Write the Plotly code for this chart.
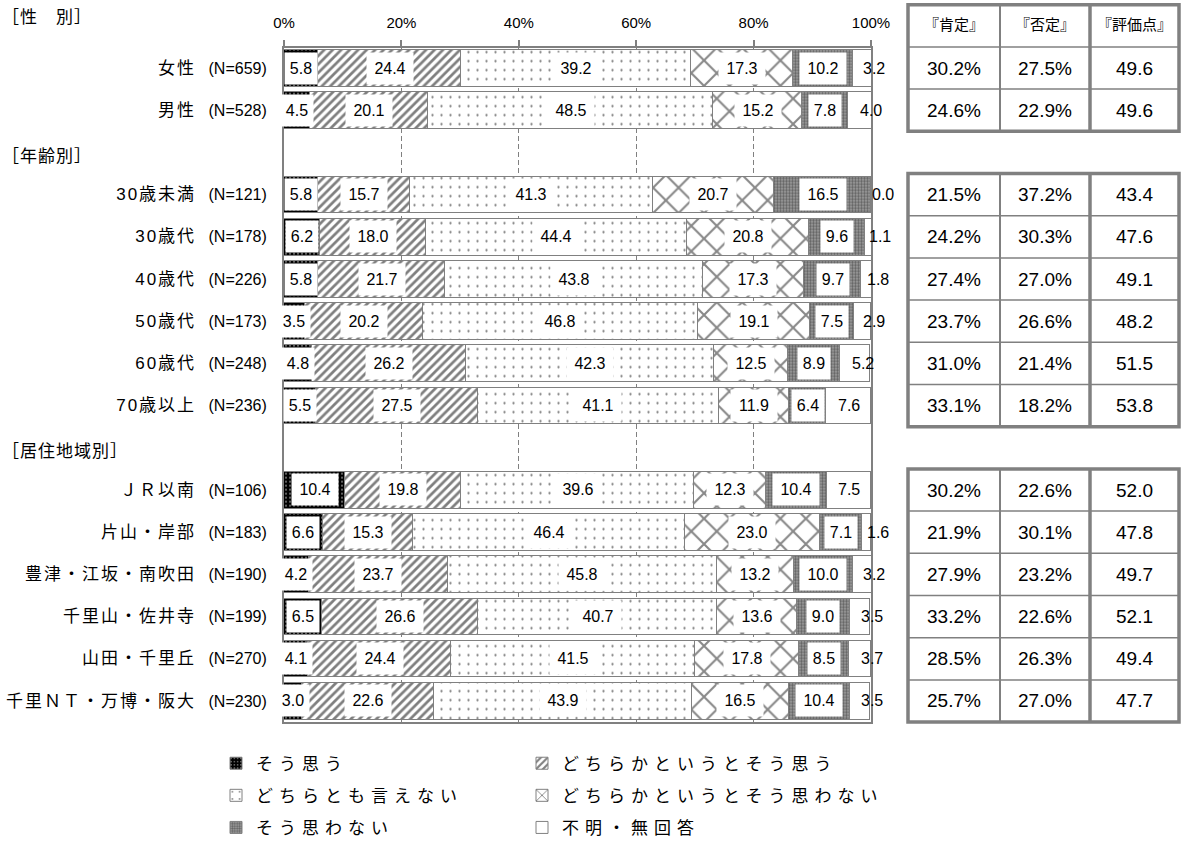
import plotly.graph_objects as go

W, H = 1182, 846

# ---- data -------------------------------------------------------------
gender_labels = ["女性", "男性"]
gender_n = [659, 528]
age_labels = ["30歳未満", "30歳代", "40歳代", "50歳代", "60歳代", "70歳以上"]
age_n = [121, 178, 226, 173, 248, 236]
region_labels = ["ＪＲ以南", "片山・岸部", "豊津・江坂・南吹田", "千里山・佐井寺",
                 "山田・千里丘", "千里ＮＴ・万博・阪大"]
region_n = [106, 183, 190, 199, 270, 230]

group_titles = ["［性　別］", "［年齢別］", "［居住地域別］"]

series_names = ["そう思う", "どちらかというとそう思う", "どちらとも言えない",
                "どちらかというとそう思わない", "そう思わない", "不明・無回答"]

sou_omou = [5.8, 4.5, 5.8, 6.2, 5.8, 3.5, 4.8, 5.5, 10.4, 6.6, 4.2, 6.5, 4.1, 3.0]
dochiraka_sou = [24.4, 20.1, 15.7, 18.0, 21.7, 20.2, 26.2, 27.5, 19.8, 15.3, 23.7, 26.6, 24.4, 22.6]
dochiratomo = [39.2, 48.5, 41.3, 44.4, 43.8, 46.8, 42.3, 41.1, 39.6, 46.4, 45.8, 40.7, 41.5, 43.9]
dochiraka_not = [17.3, 15.2, 20.7, 20.8, 17.3, 19.1, 12.5, 11.9, 12.3, 23.0, 13.2, 13.6, 17.8, 16.5]
sou_omowanai = [10.2, 7.8, 16.5, 9.6, 9.7, 7.5, 8.9, 6.4, 10.4, 7.1, 10.0, 9.0, 8.5, 10.4]
fumei = [3.2, 4.0, 0.0, 1.1, 1.8, 2.9, 5.2, 7.6, 7.5, 1.6, 3.2, 3.5, 3.7, 3.5]

koutei = [30.2, 24.6, 21.5, 24.2, 27.4, 23.7, 31.0, 33.1, 30.2, 21.9, 27.9, 33.2, 28.5, 25.7]
hitei = [27.5, 22.9, 37.2, 30.3, 27.0, 26.6, 21.4, 18.2, 22.6, 30.1, 23.2, 22.6, 26.3, 27.0]
hyoka = [49.6, 49.6, 43.4, 47.6, 49.1, 48.2, 51.5, 53.8, 52.0, 47.8, 49.7, 52.1, 49.4, 47.7]

table_headers = ["『肯定』", "『否定』", "『評価点』"]

# ---- row layout (one blank row separates the groups) ------------------
groups = [(gender_labels, gender_n), (age_labels, age_n), (region_labels, region_n)]
row_pos, row_text, group_rows, group_spans = [], [], [], []
k = 0
for gi, (labs, ns) in enumerate(groups):
    if gi > 0:
        group_rows.append(k)
        k += 1
    start = k
    for lab, n in zip(labs, ns):
        row_pos.append(k)
        row_text.append(
            f'<span style="font-size:17px;letter-spacing:2px">{lab}</span>\u2002 (N={n})')
        k += 1
    group_spans.append((start, k - 1))

# pixel geometry of the chart frame
ROW0_PX, PITCH = 68.5, 42.5
X0_PX, X1_PX = 284, 871
TOP_PX, BOT_PX = 48, 727


def ypx(r):
    return ROW0_PX + PITCH * r


def py(p):
    return 1 - p / H


def px(p):
    return p / W


y_range = [(BOT_PX - ROW0_PX) / PITCH, (TOP_PX - ROW0_PX) / PITCH]

GRAY = "#808080"
NUM_FONT = "Liberation Sans, Arial, Noto Sans CJK JP"
JP_FONT = "Liberation Sans, Noto Sans CJK JP"

patterns = [
    dict(shape=".", bgcolor="#000000", fgcolor="#ffffff", size=4, solidity=0.2),
    dict(shape="/", bgcolor="#ffffff", fgcolor="#000000", size=6, solidity=0.45),
    dict(shape=".", bgcolor="#ffffff", fgcolor="#000000", size=9, solidity=0.05),
    dict(shape="x", bgcolor="#ffffff", fgcolor="#111111", size=18, solidity=0.22),
    dict(shape=".", bgcolor="#a0a0a0", fgcolor="#222222", size=3, solidity=0.5),
    dict(shape="", bgcolor="#ffffff", fgcolor="#ffffff", size=8, solidity=0.1),
]
all_series = [sou_omou, dochiraka_sou, dochiratomo, dochiraka_not, sou_omowanai, fumei]
legend_of = ["legend", "legend2", "legend", "legend2", "legend", "legend2"]

fig = go.Figure()
for i, (name, vals) in enumerate(zip(series_names, all_series)):
    fig.add_trace(go.Bar(
        name=f'<span style="letter-spacing:6px">{name}</span>',
        x=vals, y=row_pos, orientation="h", width=0.87,
        marker=dict(color="#ffffff", pattern=patterns[i],
                    line=dict(color=GRAY, width=1)),
        legend=legend_of[i], legendgroup=f"g{i}",
        hoverinfo="skip",
    ))

# value labels in white boxes
annotations = []
for r_i, r in enumerate(row_pos):
    cum = 0.0
    for s_i, vals in enumerate(all_series):
        v = vals[r_i]
        txt = f"{v:.1f}"
        xc = cum + v / 2
        last = s_i == len(all_series) - 1
        if last:
            # small trailing segments get their label nudged past the bar end
            xc += min(2.0, max(0.0, (7.6 - v) * 0.55))
        ann = dict(x=xc / 100, y=r, xref="x domain", yref="y", text=txt,
                   showarrow=False, xanchor="center", yanchor="middle",
                   font=dict(family=NUM_FONT, size=16, color="#000000"))
        if not last:
            ann.update(bgcolor="#ffffff", width=40 if len(txt) > 3 else 26,
                       height=25, borderpad=3)
        annotations.append(ann)
        cum += v

# group titles
title_y = [ypx(-1) - 8] + [ypx(gr) + 4 for gr in group_rows]
for t, yy in zip(group_titles, title_y):
    annotations.append(dict(x=0, y=py(yy), xref="paper", yref="paper",
                            text=f'<span style="letter-spacing:1px">{t}</span>',
                            showarrow=False, xanchor="left", yanchor="middle",
                            font=dict(family=JP_FONT, size=17, color="#000")))

# summary table on the right
TX = [908, 1000, 1090, 1179]
shapes = []
table_blocks = [(group_spans[0][0] - 1, group_spans[0][1]),
                group_spans[1], group_spans[2]]
for top_r, bot_r in table_blocks:
    y_top = ypx(top_r) - PITCH / 2
    y_bot = ypx(bot_r) + PITCH / 2
    for r in range(top_r + 1, bot_r + 1):
        yy = py(ypx(r) - PITCH / 2)
        shapes.append(dict(type="line", xref="paper", yref="paper",
                           x0=px(TX[0]), x1=px(TX[3]), y0=yy, y1=yy,
                           line=dict(color=GRAY, width=1.5)))
    shapes.append(dict(type="line", xref="paper", yref="paper",
                       x0=px(TX[1]), x1=px(TX[1]), y0=py(y_top), y1=py(y_bot),
                       line=dict(color=GRAY, width=2)))
    shapes.append(dict(type="line", xref="paper", yref="paper",
                       x0=px(TX[2]), x1=px(TX[2]), y0=py(y_top), y1=py(y_bot),
                       line=dict(color=GRAY, width=3.5)))
    shapes.append(dict(type="rect", xref="paper", yref="paper",
                       x0=px(TX[0]), x1=px(TX[3]), y0=py(y_top), y1=py(y_bot),
                       line=dict(color=GRAY, width=3.5)))

col_centers = [(TX[i] + TX[i + 1]) / 2 for i in range(3)]
for c, h in zip(col_centers, table_headers):
    annotations.append(dict(x=px(c), y=py(ypx(-1) - 1), xref="paper", yref="paper",
                            text=h, showarrow=False, xanchor="center", yanchor="middle",
                            font=dict(family=JP_FONT, size=15, color="#000")))
for r_i, r in enumerate(row_pos):
    cells = [f"{koutei[r_i]:.1f}%", f"{hitei[r_i]:.1f}%", f"{hyoka[r_i]:.1f}"]
    for c, t in zip(col_centers, cells):
        annotations.append(dict(x=px(c), y=py(ypx(r)), xref="paper", yref="paper",
                                text=t, showarrow=False, xanchor="center", yanchor="middle",
                                font=dict(family=NUM_FONT, size=19, color="#000")))

legend_common = dict(orientation="v", traceorder="grouped", tracegroupgap=7,
                     font=dict(family=JP_FONT, size=17, color="#000"),
                     bgcolor="rgba(0,0,0,0)", xanchor="left", yanchor="top",
                     itemclick=False, itemdoubleclick=False)

fig.update_layout(
    width=W, height=H,
    margin=dict(l=0, r=0, t=0, b=0),
    paper_bgcolor="#ffffff", plot_bgcolor="#ffffff",
    barmode="stack", bargap=0,
    showlegend=True,
    legend=dict(x=px(216), y=py(751), **legend_common),
    legend2=dict(x=px(522), y=py(751), **legend_common),
    xaxis=dict(
        domain=[px(X0_PX), px(X1_PX)], range=[0, 100], side="top",
        tickvals=[0, 20, 40, 60, 80, 100],
        ticktext=["0%", "20%", "40%", "60%", "80%", "100%"],
        ticks="outside", ticklen=6, tickcolor=GRAY, tickwidth=1.5,
        ticklabelstandoff=6,
        tickfont=dict(family=NUM_FONT, size=15, color="#000"),
        showline=True, linecolor=GRAY, linewidth=2, mirror=True,
        showgrid=True, gridcolor=GRAY, gridwidth=1, griddash="5px,3px",
        zeroline=False, automargin=False, fixedrange=True,
    ),
    yaxis=dict(
        domain=[py(BOT_PX), py(TOP_PX)], range=y_range,
        tickvals=row_pos, ticktext=row_text, ticks="",
        ticklabelstandoff=12,
        tickfont=dict(family=JP_FONT, size=16, color="#000"),
        showline=True, linecolor=GRAY, linewidth=2, mirror=True,
        showgrid=False, zeroline=False, automargin=False, fixedrange=True,
    ),
    annotations=annotations,
    shapes=shapes,
)

fig.write_html("out.html")
